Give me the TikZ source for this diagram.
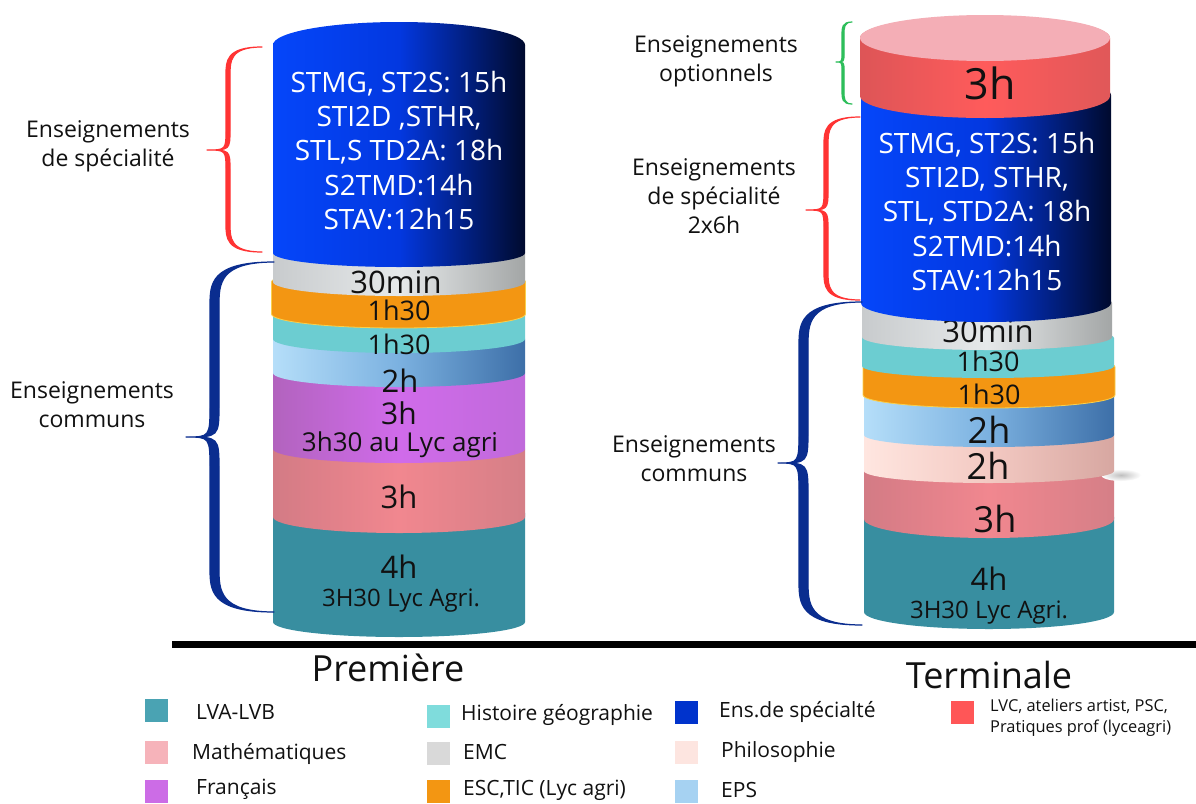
\documentclass[tikz,border=0pt]{standalone}
\usepackage{fontspec}
\setmainfont{Open Sans}
\newcommand\band[6]{\path[#6] (#1-#2,#3) -- (#1-#2,#4) arc[start angle=180,end angle=0,x radius=#2,y radius=#5] -- (#1+#2,#3) arc[start angle=0,end angle=-180,x radius=#2,y radius=#5] -- cycle;}
% xe xs xt y1 ym y2 w k color
\newcommand\brc[9]{\filldraw[#9, line width=1.2pt, line join=round] (#1,#4) .. controls (#2,#4) and (#2,#4+#8) .. (#2,#4+2*#8) -- (#2,#5-1.5*#8) .. controls (#2,#5) and (#2,#5) .. (#3,#5) .. controls (#2,#5) and (#2,#5) .. (#2,#5+1.5*#8) -- (#2,#6-2*#8) .. controls (#2,#6-#8) and (#2,#6) .. (#1,#6) .. controls (#2+#7,#6) and (#2+#7,#6-#8) .. (#2+#7,#6-2*#8) -- (#2+#7,#5+1.5*#8) .. controls (#2+#7,#5) and (#2+#7,#5) .. (#3,#5) .. controls (#2+#7,#5) and (#2+#7,#5) .. (#2+#7,#5-1.5*#8) -- (#2+#7,#4+2*#8) .. controls (#2+#7,#4+#8) and (#2+#7,#4) .. (#1,#4) -- cycle;}
\definecolor{cteal}{HTML}{388EA0}
\definecolor{cpinkL}{HTML}{D37B85}
\definecolor{cpinkM}{HTML}{F1878F}
\definecolor{cpinkR}{HTML}{D57F87}
\definecolor{cpurL}{HTML}{B263BE}
\definecolor{cpurM}{HTML}{D06BEA}
\definecolor{cpurR}{HTML}{C06ADB}
\definecolor{cepsL}{HTML}{B5DEF9}
\definecolor{cepsM}{HTML}{7BB1E0}
\definecolor{cepsR}{HTML}{3D6FA8}
\definecolor{chist}{HTML}{6CCDD1}
\definecolor{corange}{HTML}{F39612}
\definecolor{crim}{HTML}{FAD04C}
\definecolor{cgrayL}{HTML}{C8CBCD}
\definecolor{cgrayM}{HTML}{E6E9EA}
\definecolor{cgrayR}{HTML}{A3A6A6}
\definecolor{cblueL}{HTML}{0546FA}
\definecolor{cblueM}{HTML}{0338E0}
\definecolor{cblueR}{HTML}{000A2E}
\definecolor{cphiL}{HTML}{FFE6E0}
\definecolor{cphiM}{HTML}{F3C9C2}
\definecolor{cphiR}{HTML}{D7A7A1}
\definecolor{credL}{HTML}{DD5557}
\definecolor{credM}{HTML}{FF5B5B}
\definecolor{credR}{HTML}{E05859}
\definecolor{credtop}{HTML}{F4AEB6}
\definecolor{bracered}{HTML}{FF3333}
\definecolor{braceblue}{HTML}{0A2D8F}
\definecolor{bracegreen}{HTML}{2DBE5A}
\definecolor{lgLVA}{HTML}{4AA3B3}
\definecolor{lgMath}{HTML}{F6B3BA}
\definecolor{lgFr}{HTML}{CC6CE6}
\definecolor{lgHist}{HTML}{7FDCDC}
\definecolor{lgEMC}{HTML}{D9D9D9}
\definecolor{lgESC}{HTML}{F39612}
\definecolor{lgSpe}{HTML}{0033CC}
\definecolor{lgPhi}{HTML}{FDE5E0}
\definecolor{lgEPS}{HTML}{A6D2F2}
\definecolor{lgLVC}{HTML}{FF5657}
\definecolor{txt}{HTML}{111111}
\begin{document}
\begin{tikzpicture}[x=1pt,y=-1pt,
  lbl/.style={font=\fontsize{23}{29}\selectfont, align=center, text=txt, inner sep=0pt},
  wtxt/.style={font=\fontsize{28}{34.3}\selectfont, align=center, text=white, inner sep=0pt},
  hrs/.style={font=\fontsize{#1}{#1}\selectfont, text=txt, inner sep=0pt},
  hrs/.default=31,
  sq/.style={minimum size=23pt, inner sep=0pt, draw=none},
  lgt/.style={font=\fontsize{21}{24}\selectfont, text=txt, anchor=west, inner sep=0pt},
  ttl/.style={font=\fontsize{36}{36}\selectfont, text=txt, inner sep=0pt},
  sgray/.style={left color=cgrayL, right color=cgrayR, middle color=cgrayM},
  sblue/.style={left color=cblueL, right color=cblueR, middle color=cblueM},
  seps/.style={left color=cepsL, right color=cepsR, middle color=cepsM},
  spur/.style={left color=cpurL, right color=cpurR, middle color=cpurM},
  spink/.style={left color=cpinkL, right color=cpinkR, middle color=cpinkM},
  sphi/.style={left color=cphiL, right color=cphiR, middle color=cphiM},
  sred/.style={left color=credL, right color=credR, middle color=credM}]
\useasboundingbox (0,0) rectangle (1196,803);
\fill[white] (0,0) rectangle (1196,803);

% ---------- left cylinder (Premiere) ----------
\band{399}{126}{513}{622}{15}{fill=cteal}
\node[hrs] (l4h) at (399,567) {4h};
\node[hrs=24] (l4hb) at (401,601) {3H30 Lyc Agri.};
\band{399}{126}{449}{517}{16}{spink}
\node[hrs] (l3hm) at (399,497) {3h};
\band{399}{126}{373}{449}{14}{spur}
\node[hrs=30] (l3hf) at (399,413) {3h};
\node[hrs=26] (l3hfb) at (400,445) {3h30 au Lyc agri};
\band{399}{126}{339}{373}{14}{seps}
\node[hrs] (l2h) at (400,381) {2h};
\band{399}{126}{314}{339}{14}{fill=chist}
\node[hrs=27] (lhg) at (399,344) {1h30};
\band{398.5}{127}{282}{314}{14}{fill=corange, draw=crim, line width=0.8pt}
\node[hrs=27] (lesc) at (399,310) {1h30};
\band{399}{126}{253}{282}{14}{sgray}
\node[hrs] (lemc) at (396,282) {30min};
\band{399}{126}{45}{253}{14}{sblue}
\path[sblue] (399,45) ellipse [x radius=126, y radius=23];
\node[wtxt] (lspe) at (399,150.5) {STMG, ST2S: 15h\\STI2D ,STHR,\\STL,S TD2A: 18h\\S2TMD:14h\\STAV:12h15};

% ---------- right cylinder (Terminale) ----------
\band{989}{125}{517}{612}{17}{fill=cteal}
\node[hrs] (r4h) at (989,579) {4h};
\node[hrs=24] (r4hb) at (989,613) {3H30 Lyc Agri.};
\band{989}{125}{473}{519}{19}{spink}
\node[hrs=36] (r3hm) at (995,519) {3h};
\path[shading=radial, inner color=black!25, outer color=white] (1121,475) ellipse [x radius=20, y radius=6];
\band{989}{125}{433}{471}{12}{sphi}
\node[hrs=36] (rphi) at (988,466) {2h};
\band{989}{125}{393}{435}{12}{seps}
\node[hrs=36] (reps) at (989,430) {2h};
\band{989}{126}{367}{395}{13}{fill=corange, draw=crim, line width=0.8pt}
\node[hrs=27] (resc) at (989,394) {1h30};
\band{988}{126}{338}{366}{12}{fill=chist}
\node[hrs=27] (rhg) at (988,361) {1h30};
\band{987}{125}{303}{337}{13}{sgray}
\node[hrs] (remc) at (988,331) {30min};
\band{986}{125}{95}{303}{19}{sblue}
\node[wtxt] (rspe) at (987,211.5) {STMG, ST2S: 15h\\STI2D, STHR,\\STL, STD2A: 18h\\S2TMD:14h\\STAV:12h15};
\band{985}{125}{38}{96}{22}{sred}
\path[fill=credtop] (985,38) ellipse [x radius=125, y radius=23];
\node[hrs=43] (ropt) at (990,83) {3h};

% ---------- braces ----------
\brc{262}{226}{207}{47}{150}{252}{4}{14}{bracered}
\brc{274}{210}{186}{262}{437}{612}{9}{22}{braceblue}
\brc{852}{842}{836}{22}{62}{104}{2}{6}{bracegreen}
\brc{860}{824}{806}{117}{210}{300}{4}{14}{bracered}
\brc{862}{799}{778}{302}{463}{625}{9}{22}{braceblue}

% ---------- side labels ----------
\node[lbl] (lab1) at (108,146) {Enseignements\\de spécialité};
\node[lbl] (lab2) at (92,404.5) {Enseignements\\communs};
\node[lbl] (lab3) at (716,61.5) {Enseignements\\optionnels};
\node[lbl] (lab4) at (714,196) {Enseignements\\de spécialité\\2x6h};
\node[lbl] (lab5) at (694,458.5) {Enseignements\\communs};

% ---------- base line and titles ----------
\coordinate (b1) at (172,644);
\coordinate (b2) at (1196,644);
\draw[line width=7pt] (b1) -- (b2);
\node[ttl] (prem) at (388,668) {Première};
\node[ttl] (term) at (989,675) {Terminale};

% ---------- legend ----------
\node[sq, fill=lgLVA] (k1) at (156,710) {};
\node[lgt] (t1) at (196,712) {LVA-LVB};
\node[sq, fill=lgMath] (k2) at (156,752) {};
\node[lgt] (t2) at (192,754) {Mathématiques};
\node[sq, fill=lgFr] (k3) at (156,791) {};
\node[lgt] (t3) at (196,789) {Français};
\node[sq, fill=lgHist] (k4) at (438,716) {};
\node[lgt] (t4) at (461,715) {Histoire géographie};
\node[sq, fill=lgEMC] (k5) at (438,753) {};
\node[lgt] (t5) at (463,752) {EMC};
\node[sq, fill=lgESC] (k6) at (438,791) {};
\node[lgt] (t6) at (463,790) {ESC,TIC (Lyc agri)};
\node[sq, fill=lgSpe] (k7) at (686,712) {};
\node[lgt] (t7) at (719,712) {Ens.de spécialté};
\node[sq, fill=lgPhi] (k8) at (686,752) {};
\node[lgt] (t8) at (721,752) {Philosophie};
\node[sq, fill=lgEPS] (k9) at (686,791) {};
\node[lgt] (t9) at (721,790) {EPS};
\node[sq, fill=lgLVC] (k10) at (962,712) {};
\node[font=\fontsize{16.4}{21}\selectfont, text=txt, align=left, anchor=west, inner sep=0pt] (t10) at (990,717.5) {LVC, ateliers artist, PSC,\\Pratiques prof (lyceagri)};
\end{tikzpicture}
\end{document}
